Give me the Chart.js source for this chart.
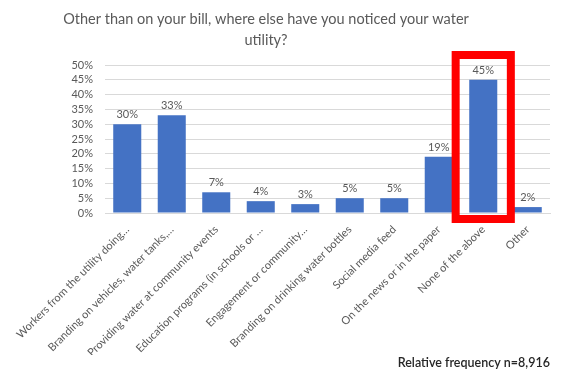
<!DOCTYPE html>
<html>
<head>
<meta charset="utf-8">
<script src="https://cdn.jsdelivr.net/npm/chart.js@4"></script>
<style>
  html, body { margin: 0; padding: 0; background: #ffffff; }
  #wrap { width: 563px; height: 372px; }
</style>
</head>
<body>
<div id="wrap"><canvas id="chart" width="563" height="372"></canvas></div>
<script>
// Survey answers and their share of respondents (%)
const categories = [
  'Workers from the utility doing…',
  'Branding on vehicles, water tanks,…',
  'Providing water at community events',
  'Education programs (in schools or …',
  'Engagement or community…',
  'Branding on drinking water bottles',
  'Social media feed',
  'On the news or in the paper',
  'None of the above',
  'Other'
];
const shares = [30, 33, 7, 4, 3, 5, 5, 19, 45, 2];
const yTicks = [0, 5, 10, 15, 20, 25, 30, 35, 40, 45, 50];
const titleLines = ['Other than on your bill, where else have you noticed your water', 'utility?'];
const footnote = 'Relative frequency n=8,916';
const highlighted = 'None of the above';

const FONT = 'Lato, "Open Sans", sans-serif';
const GREY = '#595959';

// Two-line heading, centred over the whole figure
const heading = {
  id: 'heading',
  afterDraw(chart) {
    const ctx = chart.ctx;
    ctx.save();
    ctx.font = '14.5px ' + FONT;
    ctx.fillStyle = GREY;
    ctx.textAlign = 'center';
    ctx.textBaseline = 'middle';
    titleLines.forEach((line, i) => ctx.fillText(line, 266, 19 + i * 21));
    ctx.restore();
  }
};

// Value labels above each bar
const valueLabels = {
  id: 'valueLabels',
  afterDatasetsDraw(chart) {
    const ctx = chart.ctx;
    const meta = chart.getDatasetMeta(0);
    ctx.save();
    ctx.font = '11px ' + FONT;
    ctx.fillStyle = GREY;
    ctx.textAlign = 'center';
    ctx.textBaseline = 'bottom';
    meta.data.forEach((bar, i) => {
      ctx.fillText(shares[i] + '%', bar.x, bar.y - 4);
    });
    ctx.restore();
  }
};

// Red frame around the highlighted answer
const highlightBox = {
  id: 'highlightBox',
  afterDraw(chart) {
    const idx = categories.indexOf(highlighted);
    const xs = chart.scales.x, ys = chart.scales.y;
    const cx = xs.getPixelForValue(idx);
    const half = xs.width / categories.length * 0.62;
    const ctx = chart.ctx;
    ctx.save();
    ctx.strokeStyle = '#ff0000';
    ctx.lineWidth = 8;
    ctx.strokeRect(cx - half, ys.top - 10, half * 2, ys.bottom - ys.top + 16);
    ctx.restore();
  }
};

new Chart(document.getElementById('chart'), {
  type: 'bar',
  data: {
    labels: categories,
    datasets: [{
      data: shares,
      backgroundColor: '#4472c4',
      categoryPercentage: 1,
      barPercentage: 0.63
    }]
  },
  options: {
    responsive: false,
    animation: false,
    layout: { padding: { left: 0, right: 13, top: 65, bottom: 2 } },
    plugins: {
      legend: { display: false },
      tooltip: { enabled: false },
      title: { display: false },
      subtitle: {
        display: true,
        position: 'bottom',
        align: 'end',
        text: footnote,
        color: '#262626',
        font: { family: FONT, size: 12.5, weight: '600' },
        padding: { top: 0, bottom: 0 }
      }
    },
    scales: {
      x: {
        grid: { display: false },
        border: { color: '#d9d9d9' },
        ticks: {
          color: GREY,
          font: { family: FONT, size: 11 },
          autoSkip: false,
          minRotation: 45,
          maxRotation: 45,
          padding: 2
        },
        afterFit(s) { s.height = 142; }
      },
      y: {
        min: 0,
        max: 50,
        afterBuildTicks(s) { s.ticks = yTicks.map(v => ({ value: v })); },
        afterFit(s) { s.width = 105; },
        grid: { color: '#d9d9d9', drawTicks: false },
        border: { display: false },
        ticks: {
          color: GREY,
          font: { family: FONT, size: 11 },
          padding: 12,
          autoSkip: false,
          callback: v => v + '%'
        }
      }
    }
  },
  plugins: [valueLabels, highlightBox, heading]
});
</script>
</body>
</html>
